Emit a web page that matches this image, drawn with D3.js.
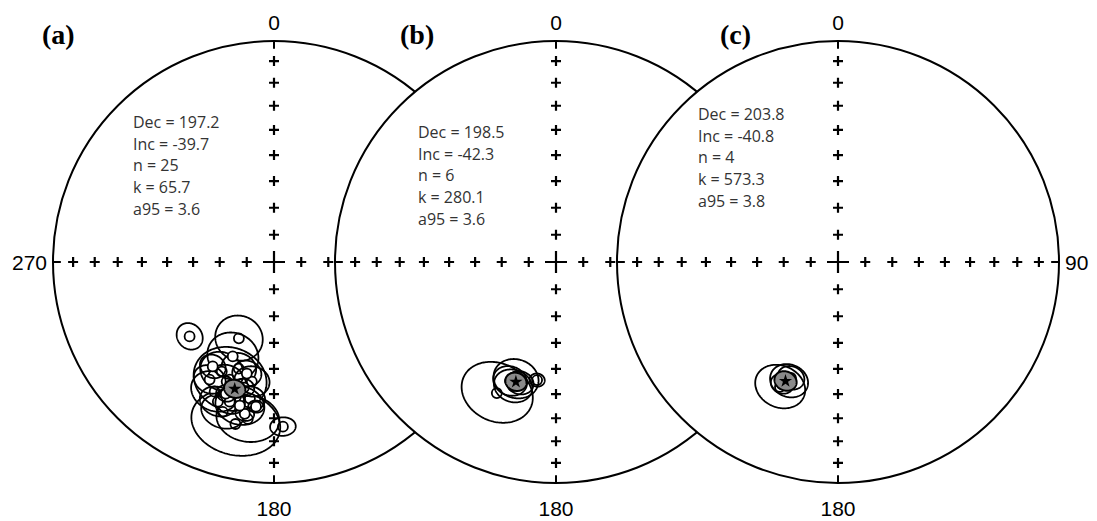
<!DOCTYPE html>
<html>
<head>
<meta charset="utf-8">
<script src="https://cdn.jsdelivr.net/npm/d3@7"></script>
<style>
  body { margin: 0; background: #fff; }
  svg { display: block; }
</style>
</head>
<body>
<svg id="chart"></svg>
<script>
// locality means (upper hemisphere -> negative inclination)
const panelLabels = ["(a)", "(b)", "(c)"];
const meanDec = [197.2, 198.5, 203.8];
const meanInc = [-39.7, -42.3, -40.8];
const meanN = [25, 6, 4];
const meanK = [65.7, 280.1, 573.3];
const meanA95 = [3.6, 3.6, 3.8];

// site means [dec, inc, a95]
const sitesA = [
  [228.6, -47.8, 4.8], [204.7, -58.8, 8.5], [176.9, -26.3, 4.0], [193.4, -25.6, 14.0],
  [189.5, -28.8, 10.0], [200.6, -42.6, 12.5], [198.3, -47.9, 6.0], [190.0, -37.3, 5.0],
  [198.9, -29.1, 7.0], [190.9, -30.7, 3.0], [201.6, -41.4, 6.5], [204.6, -35.7, 8.0],
  [195.8, -36.8, 2.8], [205.5, -44.3, 7.5], [190.5, -44.2, 6.0], [197.6, -34.1, 5.0],
  [201.9, -32.4, 6.0], [193.5, -41.2, 3.5], [208.7, -39.2, 5.5], [203.6, -51.5, 9.0],
  [187.1, -34.4, 2.5], [200.1, -36.7, 3.2], [193.4, -33.6, 8.0], [210.4, -44.4, 4.5],
  [193.7, -46.9, 5.0]
];
const sitesB = [
  [204.3, -35.2, 12.0], [189.1, -45.0, 2.6], [201.1, -41.8, 5.8],
  [198.9, -43.4, 7.7], [199.1, -40.3, 6.5], [196.6, -42.4, 4.6]
];
const sitesC = [
  [204.9, -37.7, 8.5], [202.4, -41.4, 6.5], [204.7, -39.1, 3.8], [202.1, -42.8, 4.6]
];

// grid crosses every 10 degrees of inclination along the four cardinal directions
const incTicks = [10, 20, 30, 40, 50, 60, 70, 80];
const cardinalDecs = [0, 90, 180, 270];

class Stereonet {
  constructor(_config, _sites, _i) {
    this.config = {
      parent: _config.parent,
      cx: _config.cx,
      cy: _config.cy || 262,
      radius: _config.radius || 221,
      leftLabel: _config.leftLabel,
      rightLabel: _config.rightLabel,
      labelX: _config.labelX,
      statsX: _config.statsX,
      statsY: _config.statsY
    };
    this.sites = _sites;
    this.i = _i;
    this.initVis();
  }

  initVis() {
    let vis = this;
    let c = vis.config;
    // equal-area (Schmidt) net, looking down the vertical axis
    vis.proj = d3.geoAzimuthalEqualArea()
      .rotate([0, -90])
      .scale(c.radius / Math.SQRT2)
      .translate([c.cx, c.cy]);
    vis.path = d3.geoPath(vis.proj);
    vis.g = c.parent.append('g');
    vis.updateVis();
  }

  // declination / inclination -> lon/lat for the projection
  ll(dec, inc) {
    return [180 - dec, Math.abs(inc)];
  }

  updateVis() {
    let vis = this;
    let c = vis.config;
    let g = vis.g;

    g.append('circle')
      .attr('cx', c.cx).attr('cy', c.cy).attr('r', c.radius)
      .attr('fill', '#fff').attr('stroke', '#000').attr('stroke-width', 2);

    // small crosses
    let crosses = [];
    cardinalDecs.forEach(d => incTicks.forEach(t => crosses.push(vis.proj(vis.ll(d, t)))));
    let arm = 5;
    g.append('g').selectAll('path')
      .data(crosses)
      .join('path')
      .attr('d', p => `M${p[0] - arm},${p[1]}H${p[0] + arm}M${p[0]},${p[1] - arm}V${p[1] + arm}`)
      .attr('stroke', '#000').attr('stroke-width', 2.2);

    // centre cross
    let ctr = vis.proj([0, 90]);
    g.append('path')
      .attr('d', `M${ctr[0] - 11},${ctr[1]}H${ctr[0] + 11}M${ctr[0]},${ctr[1] - 11}V${ctr[1] + 11}`)
      .attr('stroke', '#000').attr('stroke-width', 2.2);

    // cardinal ticks on the primitive
    g.append('g').selectAll('path')
      .data(cardinalDecs)
      .join('path')
      .attr('d', d => {
        let a = vis.proj(vis.ll(d, 0));
        let b = vis.proj(vis.ll(d, 4));
        return `M${a[0]},${a[1]}L${b[0]},${b[1]}`;
      })
      .attr('stroke', '#000').attr('stroke-width', 2);

    // each site: its a95 circle, then its open symbol (upper hemisphere)
    let site = g.append('g').selectAll('g')
      .data(vis.sites)
      .join('g');
    site.append('path')
      .attr('d', s => vis.path(d3.geoCircle().center(vis.ll(s[0], s[1])).radius(s[2]).precision(2)()))
      .attr('fill', 'none').attr('stroke', '#000').attr('stroke-width', 1.8);
    site.append('circle')
      .attr('cx', s => vis.proj(vis.ll(s[0], s[1]))[0])
      .attr('cy', s => vis.proj(vis.ll(s[0], s[1]))[1])
      .attr('r', 5)
      .attr('fill', '#fff').attr('stroke', '#000').attr('stroke-width', 1.8);

    // mean with its a95
    let i = vis.i;
    let m = vis.ll(meanDec[i], meanInc[i]);
    g.append('path')
      .attr('d', vis.path(d3.geoCircle().center(m).radius(meanA95[i]).precision(2)()))
      .attr('fill', '#8a8a8a').attr('stroke', '#000').attr('stroke-width', 2);
    let mp = vis.proj(m);
    g.append('path')
      .attr('d', d3.symbol(d3.symbolStar, 55)())
      .attr('transform', `translate(${mp[0]},${mp[1]})`)
      .attr('fill', '#000');

    // statistics
    let lines = [
      `Dec = ${meanDec[i].toFixed(1)}`,
      `Inc = ${meanInc[i].toFixed(1)}`,
      `n = ${meanN[i]}`,
      `k = ${meanK[i].toFixed(1)}`,
      `a95 = ${meanA95[i].toFixed(1)}`
    ];
    g.append('g').selectAll('text')
      .data(lines)
      .join('text')
      .attr('x', c.statsX)
      .attr('y', (d, j) => c.statsY + j * 21.7)
      .text(d => d)
      .style('font-family', '"Open Sans", sans-serif')
      .style('font-size', '16px')
      .style('fill', '#333');

    // azimuth labels
    let axisFont = 'Liberation Sans, Arial, sans-serif';
    g.append('text')
      .attr('x', c.cx).attr('y', 30)
      .attr('text-anchor', 'middle')
      .style('font-family', axisFont).style('font-size', '21px')
      .text('0');
    g.append('text')
      .attr('x', c.cx).attr('y', 516)
      .attr('text-anchor', 'middle')
      .style('font-family', axisFont).style('font-size', '21px')
      .text('180');
    if (c.leftLabel) {
      g.append('text')
        .attr('x', c.cx - c.radius - 6).attr('y', c.cy + 8)
        .attr('text-anchor', 'end')
        .style('font-family', axisFont).style('font-size', '21px')
        .text(c.leftLabel);
    }
    if (c.rightLabel) {
      g.append('text')
        .attr('x', c.cx + c.radius + 6).attr('y', c.cy + 8)
        .style('font-family', axisFont).style('font-size', '21px')
        .text(c.rightLabel);
    }

    // panel letter
    g.append('text')
      .attr('x', c.labelX).attr('y', 44)
      .style('font-family', '"Liberation Serif", "Times New Roman", serif')
      .style('font-weight', 'bold')
      .style('font-size', '28px')
      .text(panelLabels[i]);
  }
}

const svg = d3.select('#chart')
  .attr('width', 1097)
  .attr('height', 521);

new Stereonet({ parent: svg, cx: 274, leftLabel: '270', labelX: 42, statsX: 133, statsY: 128 }, sitesA, 0);
new Stereonet({ parent: svg, cx: 556, labelX: 400, statsX: 418, statsY: 138 }, sitesB, 1);
new Stereonet({ parent: svg, cx: 838, rightLabel: '90', labelX: 720, statsX: 698, statsY: 120 }, sitesC, 2);
</script>
</body>
</html>
